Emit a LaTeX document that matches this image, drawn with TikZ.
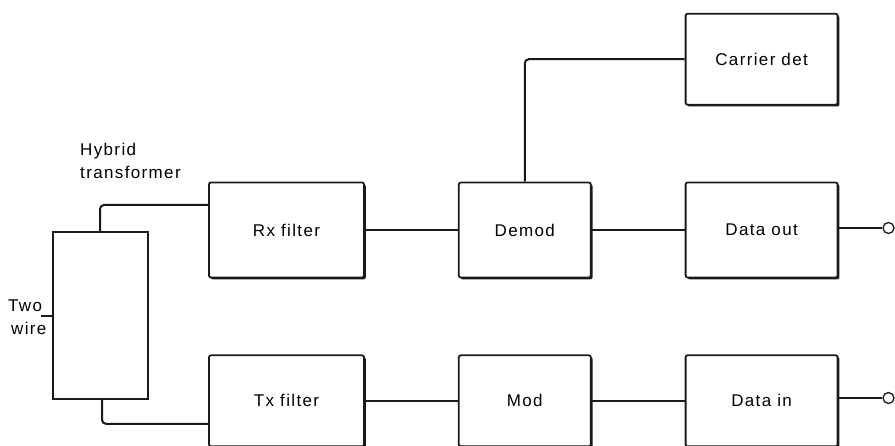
\documentclass[tikz,border=0pt]{standalone}
\usepackage{fontspec}
\setmainfont{Liberation Sans}[LetterSpace=8]
\usepackage{tikz}
\usetikzlibrary{positioning, shadows}
\definecolor{inkcolor}{HTML}{1A1A1A}

\begin{document}
\begin{tikzpicture}[
  x=1pt, y=-1pt,
  node distance=76pt and 93pt,
  box/.style={rectangle, rounded corners=2pt, draw=inkcolor, line width=1.8pt,
              fill=white, minimum height=95pt, inner sep=0pt,
              font=\fontsize{17}{23}\selectfont,
              drop shadow={shadow xshift=1.8pt, shadow yshift=-1.8pt,
                           fill=inkcolor, opacity=1}},
  lowbox/.style={box, minimum height=91pt},
  wire/.style={draw=inkcolor, line width=2pt, rounded corners=4pt},
  terminal/.style={circle, draw=inkcolor, line width=1.3pt, fill=white,
                   minimum size=11pt, inner sep=0pt},
  tag/.style={font=\fontsize{17}{23}\selectfont, inner sep=0pt, align=left},
]
\useasboundingbox (0,0) rectangle (895,446);

\node[box, minimum width=155pt] at (286.5,230) (Rx) {Rx filter};
\node[box, minimum width=132pt, right=of Rx] (Dm) {Demod};
\node[box, minimum width=152pt, right=of Dm] (DO) {Data out};
\node[lowbox, minimum width=152pt, above=of DO] (CD) {Carrier det};

\node[lowbox, minimum width=155pt, below=of Rx] (Tx) {Tx filter};
\node[lowbox, minimum width=132pt, right=of Tx] (Md) {Mod};
\node[lowbox, minimum width=152pt, right=of Md] (DI) {Data in};

\node[rectangle, draw=inkcolor, line width=1.8pt, minimum width=95pt,
      minimum height=167pt] at (100.5,315.5) (Hy) {};

\node[tag, anchor=base west] at (80,179) (HyT) {Hybrid\\transformer};
\node[tag, anchor=base west] at (8,335) (TW) {Two\\\hspace*{3pt}wire};
\coordinate (TWe) at (41,316);

\node[terminal] at (888.5,228) (Oo) {};
\node[terminal] at (888.5,398) (Oi) {};

\draw[wire] ([xshift=-0.5pt]Hy.north) |- ([yshift=25pt]Rx.west);
\draw[wire] ([xshift=1.5pt]Hy.south) |- ([yshift=-23pt]Tx.west);
\draw[wire] (TWe) -- (TWe -| Hy.west);
\draw[wire] (Rx) -- (Dm);
\draw[wire] (Dm) -- (DO);
\draw[wire] (Dm.north) |- (CD.west);
\draw[wire] (Tx) -- (Md);
\draw[wire] (Md) -- (DI);
\draw[wire] (DO.east |- Oo) -- (Oo);
\draw[wire] (DI.east |- Oi) -- (Oi);
\end{tikzpicture}
\end{document}
